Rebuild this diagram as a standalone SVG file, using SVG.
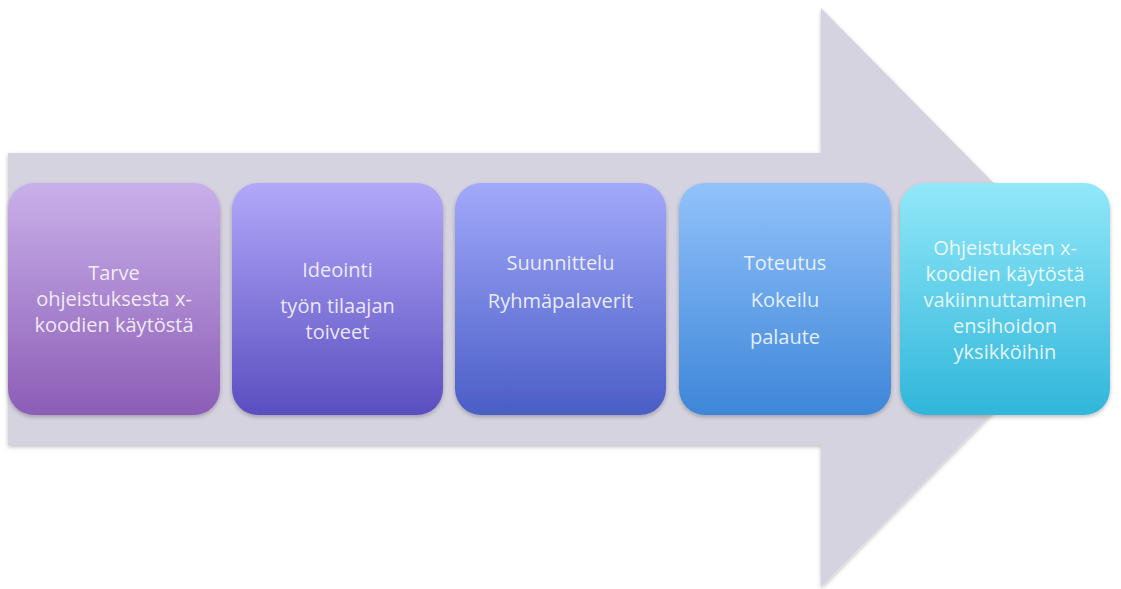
<svg xmlns="http://www.w3.org/2000/svg" width="1121" height="589" viewBox="0 0 1121 589">
<style>
.t{font-family:"Open Sans","Liberation Sans",sans-serif;font-size:20px;fill:#ffffff;fill-opacity:0.85;text-anchor:middle}
.box{filter:url(#sh)}
</style>
<defs>
<filter id="sh" x="-10%" y="-10%" width="120%" height="125%">
<feGaussianBlur in="SourceAlpha" stdDeviation="2"/>
<feOffset dy="2"/>
<feComponentTransfer><feFuncA type="linear" slope="0.25"/></feComponentTransfer>
<feMerge><feMergeNode/><feMergeNode in="SourceGraphic"/></feMerge>
</filter>
<linearGradient id="g1" x1="0" y1="0" x2="0" y2="1"><stop offset="0" stop-color="#C9B0EA"/><stop offset="1" stop-color="#8C5DB6"/></linearGradient>
<linearGradient id="g2" x1="0" y1="0" x2="0" y2="1"><stop offset="0" stop-color="#B2A8F9"/><stop offset="1" stop-color="#5A4EC0"/></linearGradient>
<linearGradient id="g3" x1="0" y1="0" x2="0" y2="1"><stop offset="0" stop-color="#A1A9FA"/><stop offset="1" stop-color="#4A5DC6"/></linearGradient>
<linearGradient id="g4" x1="0" y1="0" x2="0" y2="1"><stop offset="0" stop-color="#92C2FB"/><stop offset="1" stop-color="#3D86D8"/></linearGradient>
<linearGradient id="g5" x1="0" y1="0" x2="0" y2="1"><stop offset="0" stop-color="#92E8F9"/><stop offset="1" stop-color="#30B6DA"/></linearGradient>
</defs>
<g id="arrow" class="box">
<path d="M8,153 H821 V8 L1106,297 L821,587 V445 H8 Z" fill="#D6D3E0"/>
</g>
<g id="connectors"></g>
<g id="n1">
<rect class="box" x="8" y="183" width="212" height="232" rx="26" fill="url(#g1)"/>
<text class="t" x="114" y="280">Tarve</text>
<text class="t" x="114" y="306">ohjeistuksesta x-</text>
<text class="t" x="114" y="332">koodien käytöstä</text>
</g>
<g id="n2">
<rect class="box" x="232" y="183" width="211" height="232" rx="26" fill="url(#g2)"/>
<text class="t" x="337.5" y="277">Ideointi</text>
<text class="t" x="337.5" y="313">työn tilaajan</text>
<text class="t" x="337.5" y="339">toiveet</text>
</g>
<g id="n3">
<rect class="box" x="455" y="183" width="211" height="232" rx="26" fill="url(#g3)"/>
<text class="t" x="560.5" y="270">Suunnittelu</text>
<text class="t" x="560.5" y="308">Ryhmäpalaverit</text>
</g>
<g id="n4">
<rect class="box" x="679" y="183" width="212" height="232" rx="26" fill="url(#g4)"/>
<text class="t" x="785" y="270">Toteutus</text>
<text class="t" x="785" y="307">Kokeilu</text>
<text class="t" x="785" y="344">palaute</text>
</g>
<g id="n5">
<rect class="box" x="900" y="183" width="210" height="232" rx="26" fill="url(#g5)"/>
<text class="t" x="1005" y="255">Ohjeistuksen x-</text>
<text class="t" x="1005" y="281">koodien käytöstä</text>
<text class="t" x="1005" y="307">vakiinnuttaminen</text>
<text class="t" x="1005" y="333">ensihoidon</text>
<text class="t" x="1005" y="359">yksikköihin</text>
</g>
</svg>
